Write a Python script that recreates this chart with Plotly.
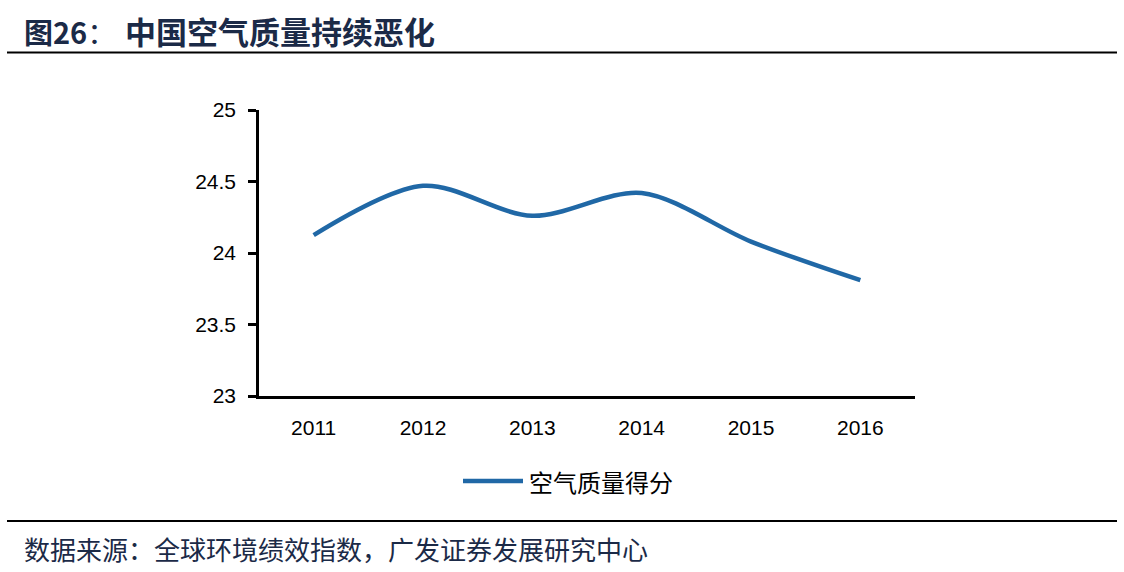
import plotly.graph_objects as go

years = ["2011", "2012", "2013", "2014", "2015", "2016"]
scores = [24.125, 24.47, 24.26, 24.42, 24.08, 23.81]
y_ticks = [23, 23.5, 24, 24.5, 25]
y_tick_labels = ["23", "23.5", "24", "24.5", "25"]
series_name = "空气质量得分"
title_prefix = "<b>图26</b>："
title_main = "中国空气质量持续恶化"
source_text = "数据来源：全球环境绩效指数，广发证券发展研究中心"

W, H = 1124, 572
L, R, T, B = 259, 915, 110, 396
LINE_COLOR = "#2068A6"
NUM_FONT = "Liberation Sans, Arial, sans-serif"

fig = go.Figure()
fig.add_trace(go.Scatter(
    x=years, y=scores, mode="lines", name=series_name,
    line=dict(color=LINE_COLOR, width=4.5, shape="spline", smoothing=0.9),
    showlegend=False, hoverinfo="skip",
))

fig.update_layout(
    width=W, height=H,
    margin=dict(l=0, r=0, t=0, b=0, autoexpand=False),
    paper_bgcolor="white", plot_bgcolor="white",
    showlegend=False,
    xaxis=dict(
        domain=[L / W, R / W], type="category", range=[-0.5, 5.5],
        showline=True, linecolor="black", linewidth=2.5,
        ticks="", showgrid=False, zeroline=False, automargin=False,
        tickfont=dict(family=NUM_FONT, size=21, color="black"),
        ticklabelstandoff=11,
    ),
    yaxis=dict(
        domain=[1 - B / H, 1 - T / H], range=[23, 25],
        tickvals=y_ticks, ticktext=y_tick_labels,
        showline=True, linecolor="black", linewidth=2.5,
        ticks="outside", ticklen=8, tickwidth=2.5, tickcolor="black",
        showgrid=False, zeroline=False, automargin=False,
        tickfont=dict(family=NUM_FONT, size=21, color="black"),
        ticklabelstandoff=8,
    ),
    font=dict(family="Noto Sans CJK SC"),
)

TITLE_COLOR = "#1B2A47"
fig.add_annotation(
    x=22 / W, y=1 - 31 / H, xref="paper", yref="paper",
    xanchor="left", yanchor="middle", showarrow=False,
    text=title_prefix,
    font=dict(family="Noto Sans CJK SC", size=29, color=TITLE_COLOR),
)
fig.add_annotation(
    x=123 / W, y=1 - 31 / H, xref="paper", yref="paper",
    xanchor="left", yanchor="middle", showarrow=False,
    text="<b>" + title_main + "</b>",
    font=dict(family="Noto Sans CJK SC", size=31, color=TITLE_COLOR),
)
# Title rule
fig.add_shape(type="line", xref="paper", yref="paper",
              x0=7 / W, x1=1117 / W, y0=1 - 52.5 / H, y1=1 - 52.5 / H,
              line=dict(color="black", width=2))
# Bottom rule
fig.add_shape(type="line", xref="paper", yref="paper",
              x0=7 / W, x1=1117 / W, y0=1 - 521 / H, y1=1 - 521 / H,
              line=dict(color="black", width=2))
# Source
fig.add_annotation(
    x=22 / W, y=1 - 548 / H, xref="paper", yref="paper",
    xanchor="left", yanchor="middle", showarrow=False,
    text=source_text,
    font=dict(family="Noto Sans CJK SC", size=26, color="#1B2A47"),
)
# Legend (manual)
fig.add_shape(type="line", xref="paper", yref="paper",
              x0=463 / W, x1=523 / W, y0=1 - 481 / H, y1=1 - 481 / H,
              line=dict(color=LINE_COLOR, width=4.5))
fig.add_annotation(
    x=527 / W, y=1 - 481 / H, xref="paper", yref="paper",
    xanchor="left", yanchor="middle", showarrow=False,
    text=series_name,
    font=dict(family="Noto Sans CJK SC", size=24, color="black"),
)

fig.write_html(
    "out.html",
    config={"displayModeBar": False},
    post_script="document.body.style.margin='0';document.body.style.padding='0';",
)
